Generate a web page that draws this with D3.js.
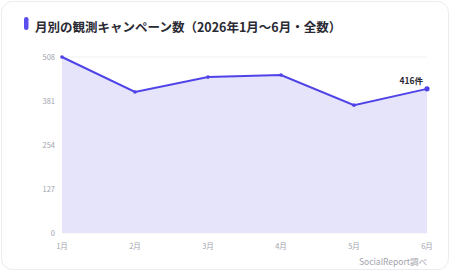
<!DOCTYPE html>
<html>
<head>
<meta charset="utf-8">
<title>月別の観測キャンペーン数</title>
<script src="https://cdn.jsdelivr.net/npm/d3@7"></script>
<style>
body { margin: 0; background: #fff; font-family: "Noto Sans CJK JP", "Noto Sans", sans-serif; }
</style>
</head>
<body>
<script>
var months = ["1月", "2月", "3月", "4月", "5月", "6月"];
var counts = [508, 407, 450, 456, 369, 416];
var yTicks = [0, 127, 254, 381, 508];
var title = "月別の観測キャンペーン数（2026年1月〜6月・全数）";
var source = "SocialReport調べ";

var w = 450, h = 272;
var svg = d3.select("body").append("svg").attr("width", w).attr("height", h);

// card
svg.append("rect")
   .attr("x", 1.5).attr("y", 1.5).attr("width", w - 3).attr("height", h - 4)
   .attr("rx", 11).attr("fill", "#fff").attr("stroke", "#ececf0");

svg.append("rect")
   .attr("x", 24).attr("y", 17).attr("width", 4.5).attr("height", 13)
   .attr("rx", 2.2).attr("fill", "#5b4ff0");

svg.append("text")
   .attr("x", 35).attr("y", 32)
   .attr("font-size", 12.5).attr("font-weight", "bold").attr("fill", "#2a2a33")
   .text(title);

var x = d3.scalePoint().domain(months).range([62, 427]);
var y = d3.scaleLinear().domain([0, 508]).range([233, 57]);

// grid
svg.selectAll("line.grid")
   .data(yTicks)
   .enter().append("line")
   .attr("class", "grid")
   .attr("x1", 62).attr("x2", 427)
   .attr("y1", function(d) { return y(d); })
   .attr("y2", function(d) { return y(d); })
   .attr("stroke", "#f1f1f4");

var area = d3.area()
    .x(function(d, i) { return x(months[i]); })
    .y0(y(0))
    .y1(function(d) { return y(d); });

var line = d3.line()
    .x(function(d, i) { return x(months[i]); })
    .y(function(d) { return y(d); });

svg.append("path").datum(counts)
   .attr("d", area).attr("fill", "#e6e4fb");

svg.append("path").datum(counts)
   .attr("d", line).attr("fill", "none")
   .attr("stroke", "#4f43e8").attr("stroke-width", 2);

svg.selectAll("circle.pt")
   .data(counts)
   .enter().append("circle")
   .attr("class", "pt")
   .attr("cx", function(d, i) { return x(months[i]); })
   .attr("cy", function(d) { return y(d); })
   .attr("r", function(d, i) { return i == counts.length - 1 ? 2.6 : 1.8; })
   .attr("fill", "#4f43e8");

// y axis labels
svg.selectAll("text.ytick")
   .data(yTicks)
   .enter().append("text")
   .attr("class", "ytick")
   .attr("x", 55)
   .attr("y", function(d) { return y(d) + 3; })
   .attr("text-anchor", "end")
   .attr("font-size", 7.5).attr("fill", "#a3a3ad")
   .text(function(d) { return d; });

// x axis labels
svg.selectAll("text.xtick")
   .data(months)
   .enter().append("text")
   .attr("class", "xtick")
   .attr("x", function(d) { return x(d); })
   .attr("y", 249)
   .attr("text-anchor", "middle")
   .attr("font-size", 7.5).attr("fill", "#a3a3ad")
   .text(function(d) { return d; });

// last value label
var last = counts.length - 1;
svg.append("text")
   .attr("x", x(months[last]) - 4)
   .attr("y", y(counts[last]) - 5)
   .attr("text-anchor", "end")
   .attr("font-size", 8.5).attr("font-weight", "bold").attr("fill", "#2a2a33")
   .text(counts[last] + "件");

svg.append("text")
   .attr("x", 427).attr("y", 265)
   .attr("text-anchor", "end")
   .attr("font-size", 8.5).attr("fill", "#a3a3ad")
   .text(source);
</script>
</body>
</html>
